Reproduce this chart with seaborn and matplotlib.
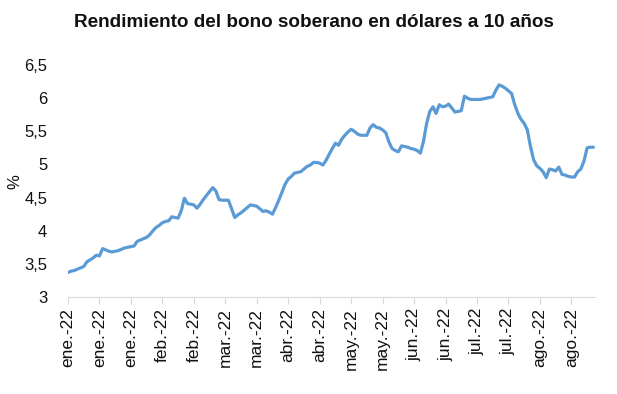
import matplotlib
matplotlib.use("Agg")
import matplotlib.pyplot as plt
import seaborn as sns
import pandas as pd
import numpy as np

title = "Rendimiento del bono soberano en dólares a 10 años"
y_label = "%"

tick_labels = ["ene.-22", "ene.-22", "ene.-22", "feb.-22", "feb.-22", "mar.-22", "mar.-22",
               "abr.-22", "abr.-22", "may.-22", "may.-22", "jun.-22", "jun.-22",
               "jul.-22", "jul.-22", "ago.-22", "ago.-22"]
y_ticks = [3, 3.5, 4, 4.5, 5, 5.5, 6, 6.5]

yields = [
    3.37, 3.39, 3.40, 3.42, 3.44, 3.46, 3.53, 3.56, 3.59, 3.63,
    3.62, 3.73, 3.71, 3.69, 3.68, 3.69, 3.70, 3.72, 3.74, 3.75,
    3.76, 3.77, 3.84, 3.86, 3.88, 3.90, 3.94, 4.00, 4.05, 4.08,
    4.12, 4.14, 4.15, 4.21, 4.20, 4.19, 4.30, 4.49, 4.41, 4.40,
    4.39, 4.34, 4.40, 4.47, 4.53, 4.59, 4.65, 4.60, 4.47, 4.46,
    4.46, 4.46, 4.33, 4.20, 4.24, 4.27, 4.31, 4.35, 4.39, 4.38,
    4.37, 4.33, 4.29, 4.30, 4.28, 4.25, 4.35, 4.46, 4.58, 4.70,
    4.78, 4.82, 4.87, 4.88, 4.89, 4.93, 4.97, 4.99, 5.03, 5.03,
    5.02, 4.99, 5.06, 5.15, 5.24, 5.32, 5.29, 5.38, 5.44, 5.49,
    5.53, 5.50, 5.46, 5.44, 5.44, 5.44, 5.55, 5.60, 5.56, 5.55,
    5.52, 5.48, 5.34, 5.24, 5.21, 5.19, 5.28, 5.27, 5.26, 5.24,
    5.23, 5.21, 5.17, 5.35, 5.62, 5.80, 5.87, 5.77, 5.90, 5.87,
    5.88, 5.91, 5.85, 5.79, 5.80, 5.81, 6.03, 6.00, 5.98, 5.98,
    5.98, 5.98, 5.99, 6.00, 6.01, 6.02, 6.12, 6.20, 6.18, 6.15,
    6.11, 6.07, 5.90, 5.77, 5.68, 5.62, 5.52, 5.27, 5.07, 4.98,
    4.94, 4.89, 4.80, 4.93, 4.92, 4.90, 4.96, 4.85, 4.84, 4.82,
    4.81, 4.81, 4.89, 4.93, 5.05, 5.25, 5.26, 5.26,
]

dates = pd.bdate_range("2022-01-03", periods=len(yields))
df = pd.DataFrame({"idx": np.arange(len(yields)), "fecha": dates, "rend": yields})

sns.set_theme(style="white")
plt.rcParams['font.family'] = ['Liberation Sans', 'DejaVu Sans']

fig = plt.figure(figsize=(6.17, 3.94), dpi=100)
ax = fig.add_axes([0.1102, 0.2462, 0.8541, 0.5888])

sns.lineplot(data=df, x="idx", y="rend", ax=ax, color="#5B9BD5", linewidth=2.3)

ax.set_xlim(0, 167.5)
ax.set_ylim(3, 6.5)
ax.set_yticks(y_ticks)
ax.set_yticklabels([f"{v:g}".replace(".", ",") for v in y_ticks], fontsize=12, color="#111111")
xt = np.arange(0, len(tick_labels) * 10, 10)
ax.set_xticks(xt)
ax.set_xticklabels(tick_labels, rotation=90, fontsize=12.5, color="#111111")
ax.tick_params(axis="y", length=0, pad=15)
ax.tick_params(axis="x", length=5, width=0.8, color="#D9D9D9", pad=3, direction="out", bottom=True)
ax.set_xlabel("")
ax.set_ylabel("")
for s in ["top", "right", "left"]:
    ax.spines[s].set_visible(False)
ax.spines["bottom"].set_color("#D9D9D9")
ax.spines["bottom"].set_linewidth(0.8)
ax.grid(False)

fig.text(0.509, 0.942, title, ha="center", va="center", fontsize=13.6, fontweight="bold", color="#111111")
fig.text(0.024, 0.54, y_label, ha="center", va="center", rotation=90, fontsize=12, color="#111111")

fig.savefig("out.png", dpi=100)
